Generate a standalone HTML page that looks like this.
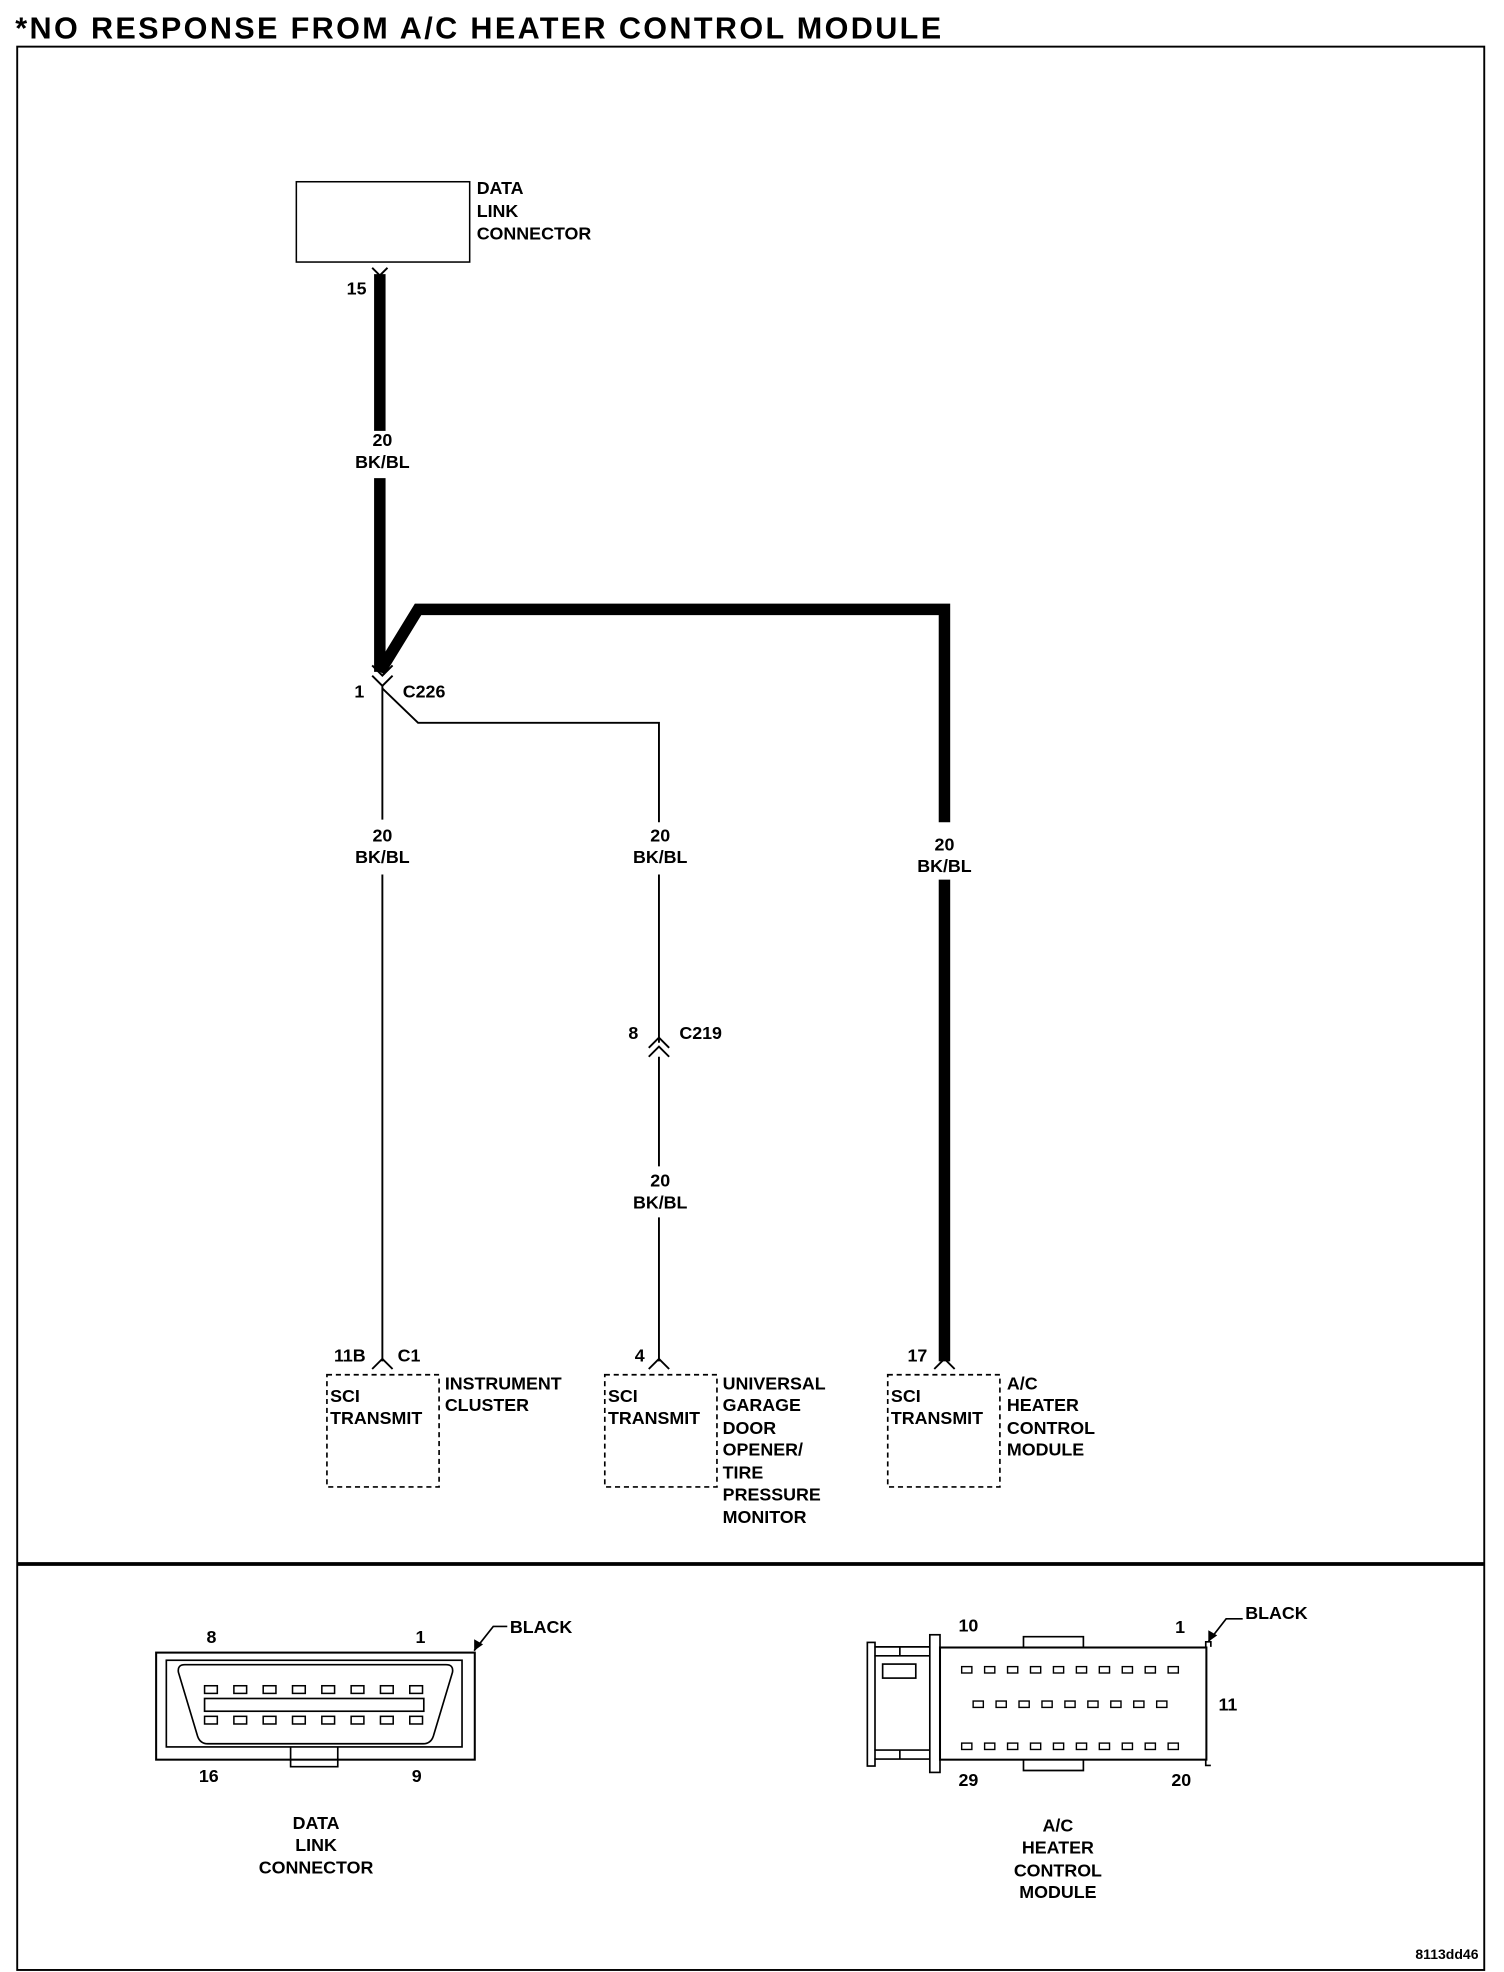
<!DOCTYPE html>
<html><head><meta charset="utf-8"><style>html,body{margin:0;padding:0;background:#fff}svg{display:block}text{font-family:"Liberation Sans",sans-serif;font-size:14px;font-weight:bold;fill:#000}</style></head><body>
<svg width="1504" height="1972" viewBox="0 0 1180 1547" xmlns="http://www.w3.org/2000/svg">
<text x="12" y="30" style="font-size:24px;font-weight:bold;letter-spacing:1.85px">*NO RESPONSE FROM A/C HEATER CONTROL MODULE</text>
<rect x="13.5" y="36.5" width="1151" height="1509" fill="none" stroke="#000" stroke-width="1.5"/>
<line x1="13" y1="1227" x2="1165" y2="1227" stroke="#000" stroke-width="3"/>
<g fill="none" stroke="#000">
<rect x="232.5" y="142.5" width="136" height="63" stroke-width="1.2"/>
<path d="M292 210 L298 216 L304 210" stroke-width="1.5"/>
<line x1="298" y1="215" x2="298" y2="338" stroke-width="9"/>
<line x1="298" y1="375" x2="298" y2="527" stroke-width="9"/>
<path d="M298 527 L328 478 L741 478 L741 645" stroke-width="9"/>
<line x1="741" y1="690" x2="741" y2="1068" stroke-width="9"/>
<path d="M292 522 L300 530 L308 522 M292 530 L300 538 L308 530" stroke-width="1.5"/>
<line x1="300" y1="538" x2="300" y2="643" stroke-width="1.5"/>
<line x1="300" y1="686" x2="300" y2="1068" stroke-width="1.5"/>
<path d="M300 540 L328 567 L517 567 L517 645" stroke-width="1.5"/>
<line x1="517" y1="686" x2="517" y2="818" stroke-width="1.5"/>
<path d="M509 822 L517 814 L525 822 M509 829 L517 821 L525 829" stroke-width="1.5"/>
<line x1="517" y1="829" x2="517" y2="915" stroke-width="1.5"/>
<line x1="517" y1="955" x2="517" y2="1068" stroke-width="1.5"/>
<path d="M292 1074 L300 1066 L308 1074 M509 1074 L517 1066 L525 1074 M733 1074 L741 1066 L749 1074" stroke-width="1.5"/>
<g stroke-dasharray="4,3" stroke-width="1.3">
<rect x="256.5" y="1078.5" width="88" height="88"/>
<rect x="474.5" y="1078.5" width="88" height="88"/>
<rect x="696.5" y="1078.5" width="88" height="88"/>
</g>
</g>
<text x="374" y="152">DATA</text><text x="374" y="170">LINK</text><text x="374" y="188">CONNECTOR</text>
<text x="272" y="231">15</text>
<g text-anchor="middle">
<text x="300" y="350">20</text><text x="300" y="367">BK/BL</text>
<text x="300" y="660">20</text><text x="300" y="677">BK/BL</text>
<text x="518" y="660">20</text><text x="518" y="677">BK/BL</text>
<text x="741" y="667">20</text><text x="741" y="684">BK/BL</text>
<text x="518" y="931">20</text><text x="518" y="948">BK/BL</text>
</g>
<text x="278" y="547">1</text><text x="316" y="547">C226</text>
<text x="493" y="815">8</text><text x="533" y="815">C219</text>
<text x="262" y="1068">11B</text><text x="312" y="1068">C1</text>
<text x="498" y="1068">4</text><text x="712" y="1068">17</text>
<text x="259" y="1100">SCI</text><text x="259" y="1117">TRANSMIT</text>
<text x="477" y="1100">SCI</text><text x="477" y="1117">TRANSMIT</text>
<text x="699" y="1100">SCI</text><text x="699" y="1117">TRANSMIT</text>
<text x="349" y="1090">INSTRUMENT</text><text x="349" y="1107">CLUSTER</text>
<text x="567" y="1090">UNIVERSAL</text><text x="567" y="1107">GARAGE</text><text x="567" y="1125">DOOR</text><text x="567" y="1142">OPENER/</text><text x="567" y="1160">TIRE</text><text x="567" y="1177">PRESSURE</text><text x="567" y="1195">MONITOR</text>
<text x="790" y="1090">A/C</text><text x="790" y="1107">HEATER</text><text x="790" y="1125">CONTROL</text><text x="790" y="1142">MODULE</text>
<g fill="none" stroke="#000" stroke-width="1.3">
<rect x="122.5" y="1296.5" width="250" height="84" stroke-width="1.6"/>
<rect x="130.5" y="1302.5" width="232" height="68"/>
<path d="M145 1306 L350 1306 Q356 1306 355 1312 L340 1362 Q338 1368 332 1368 L163 1368 Q157 1368 155 1362 L140 1312 Q139 1306 145 1306 Z"/>
<rect x="160.5" y="1332.5" width="172" height="10"/>
<path d="M228 1371 L228 1386 L265 1386 L265 1371"/>
<path d="M372 1295 L387 1276 L398 1276"/>
</g>
<polygon points="372,1295 372,1286 379,1290" fill="#000"/>
<g fill="none" stroke="#000" stroke-width="1.2">
<rect x="160.5" y="1322.5" width="10" height="6"/><rect x="183.5" y="1322.5" width="10" height="6"/><rect x="206.5" y="1322.5" width="10" height="6"/><rect x="229.5" y="1322.5" width="10" height="6"/><rect x="252.5" y="1322.5" width="10" height="6"/><rect x="275.5" y="1322.5" width="10" height="6"/><rect x="298.5" y="1322.5" width="10" height="6"/><rect x="321.5" y="1322.5" width="10" height="6"/>
<rect x="160.5" y="1346.5" width="10" height="6"/><rect x="183.5" y="1346.5" width="10" height="6"/><rect x="206.5" y="1346.5" width="10" height="6"/><rect x="229.5" y="1346.5" width="10" height="6"/><rect x="252.5" y="1346.5" width="10" height="6"/><rect x="275.5" y="1346.5" width="10" height="6"/><rect x="298.5" y="1346.5" width="10" height="6"/><rect x="321.5" y="1346.5" width="10" height="6"/>
</g>
<text x="162" y="1289">8</text><text x="326" y="1289">1</text><text x="156" y="1398">16</text><text x="323" y="1398">9</text>
<text x="400" y="1281">BLACK</text>
<g text-anchor="middle"><text x="248" y="1435">DATA</text><text x="248" y="1452">LINK</text><text x="248" y="1470">CONNECTOR</text>
<text x="830" y="1437">A/C</text><text x="830" y="1454">HEATER</text><text x="830" y="1472">CONTROL</text><text x="830" y="1489">MODULE</text></g>
<g fill="none" stroke="#000" stroke-width="1.3">
<rect x="680.5" y="1288.5" width="6" height="97"/>
<rect x="729.5" y="1282.5" width="8" height="108"/>
<rect x="737.5" y="1292.5" width="209" height="88" stroke-width="1.6"/>
<path d="M686 1292 L729 1292 M686 1299 L729 1299 M686 1373 L729 1373 M686 1380 L729 1380 M706 1292 L706 1299 M706 1373 L706 1380"/>
<rect x="692.5" y="1305.5" width="26" height="11"/>
<path d="M803 1292 L803 1284 L850 1284 L850 1292 M803 1381 L803 1389 L850 1389 L850 1381"/>
<path d="M946 1292 L946 1288 L950 1288 L950 1292 M946 1381 L946 1385 L950 1385"/>
<path d="M948 1288 L962 1270 L975 1270"/>
</g>
<polygon points="948,1288 948,1279 955,1283" fill="#000"/>
<g fill="none" stroke="#000" stroke-width="1.1">
<rect x="754.5" y="1307.5" width="8" height="5"/><rect x="772.5" y="1307.5" width="8" height="5"/><rect x="790.5" y="1307.5" width="8" height="5"/><rect x="808.5" y="1307.5" width="8" height="5"/><rect x="826.5" y="1307.5" width="8" height="5"/><rect x="844.5" y="1307.5" width="8" height="5"/><rect x="862.5" y="1307.5" width="8" height="5"/><rect x="880.5" y="1307.5" width="8" height="5"/><rect x="898.5" y="1307.5" width="8" height="5"/><rect x="916.5" y="1307.5" width="8" height="5"/>
<rect x="763.5" y="1334.5" width="8" height="5"/><rect x="781.5" y="1334.5" width="8" height="5"/><rect x="799.5" y="1334.5" width="8" height="5"/><rect x="817.5" y="1334.5" width="8" height="5"/><rect x="835.5" y="1334.5" width="8" height="5"/><rect x="853.5" y="1334.5" width="8" height="5"/><rect x="871.5" y="1334.5" width="8" height="5"/><rect x="889.5" y="1334.5" width="8" height="5"/><rect x="907.5" y="1334.5" width="8" height="5"/>
<rect x="754.5" y="1367.5" width="8" height="5"/><rect x="772.5" y="1367.5" width="8" height="5"/><rect x="790.5" y="1367.5" width="8" height="5"/><rect x="808.5" y="1367.5" width="8" height="5"/><rect x="826.5" y="1367.5" width="8" height="5"/><rect x="844.5" y="1367.5" width="8" height="5"/><rect x="862.5" y="1367.5" width="8" height="5"/><rect x="880.5" y="1367.5" width="8" height="5"/><rect x="898.5" y="1367.5" width="8" height="5"/><rect x="916.5" y="1367.5" width="8" height="5"/>
</g>
<text x="752" y="1280">10</text><text x="922" y="1281">1</text><text x="956" y="1342">11</text><text x="752" y="1401">29</text><text x="919" y="1401">20</text>
<text x="977" y="1270">BLACK</text>
<text x="1160" y="1537" text-anchor="end" style="font-size:11px;font-weight:bold">8113dd46</text>
</svg>
</body></html>
